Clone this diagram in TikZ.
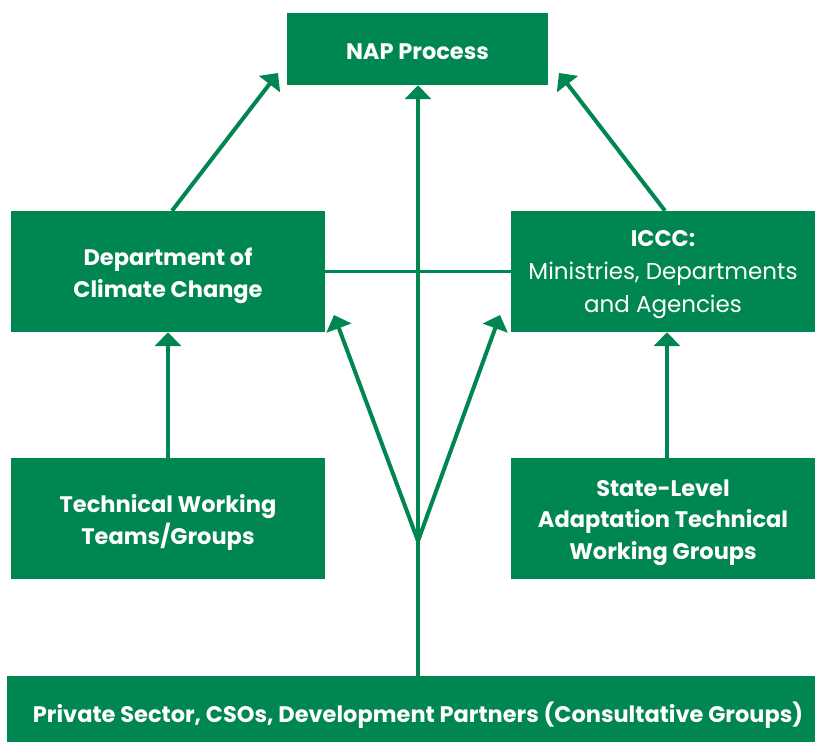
\documentclass[tikz,border=0pt]{standalone}
\usepackage{fontspec}
\setmainfont{Poppins}
\usetikzlibrary{arrows.meta}
\definecolor{napgreen}{RGB}{0,134,81}
\tikzset{
  gbox/.style={fill=napgreen, inner sep=0pt},
  blabel/.style={text=white, align=center, inner sep=0pt, font=\fontsize{22.5}{32}\selectfont\bfseries},
  rlabel/.style={text=white, align=center, inner sep=0pt, font=\fontsize{23}{33}\selectfont},
  conn/.style={draw=napgreen, line width=4pt, -{Triangle[length=14pt,width=26pt]}},
  thinconn/.style={draw=napgreen, line width=2.5pt}
}
\begin{document}
\begin{tikzpicture}[x=1pt,y=-1pt]
\useasboundingbox (0,0) rectangle (815,742);
\node[gbox, minimum width=261pt, minimum height=72pt] (nap) at (417.5,49) {};
\node[blabel] (naptext) at ([yshift=-3pt]nap.center) {NAP Process};
\node[gbox, minimum width=314pt, minimum height=121pt] (dcc) at (168,271.5) {};
\node[blabel] (dcctext) at ([yshift=-4pt]dcc.center) {Department of\\Climate Change};
\node[gbox, minimum width=304pt, minimum height=121pt] (iccc) at (663,271.5) {};
\node[rlabel] (iccctext) at ([yshift=-3pt]iccc.center) {\textbf{\fontsize{22.5}{33}\selectfont ICCC:}\\Ministries, Departments\\and Agencies};
\node[gbox, minimum width=314pt, minimum height=121pt] (twt) at (168,518.5) {};
\node[blabel] (twttext) at ([yshift=-4pt]twt.center) {Technical Working\\Teams/Groups};
\node[gbox, minimum width=304pt, minimum height=121pt] (sla) at (663,518.5) {};
\node[blabel, font=\fontsize{22.5}{31.5}\selectfont\bfseries] (slatext) at ([yshift=-4pt]sla.center) {State-Level\\Adaptation Technical\\Working Groups};
\node[gbox, minimum width=808pt, minimum height=66pt] (priv) at (411,709) {};
\node[blabel] (privtext) at ([xshift=7pt,yshift=-6pt]priv.center) {Private Sector, CSOs, Development Partners (Consultative Groups)};
\coordinate (fork) at (418,541);
\coordinate (tipl) at (334,315);
\coordinate (tipr) at (500,315);
\coordinate (napl) at (278,73);
\coordinate (napr) at (559,73);
\draw[conn] (priv.north -| fork) -- (nap.south -| fork);
\draw[conn] (fork) -- (tipl);
\draw[conn] (fork) -- (tipr);
\draw[thinconn] (dcc.east) -- (iccc.west);
\draw[conn] (dcc.north -| 172,0) -- (napl);
\draw[conn] (iccc.north -| 665,0) -- (napr);
\draw[conn] (twt.north) -- (dcc.south);
\draw[conn] (sla.north -| 667,0) -- (iccc.south -| 667,0);
\end{tikzpicture}
\end{document}
